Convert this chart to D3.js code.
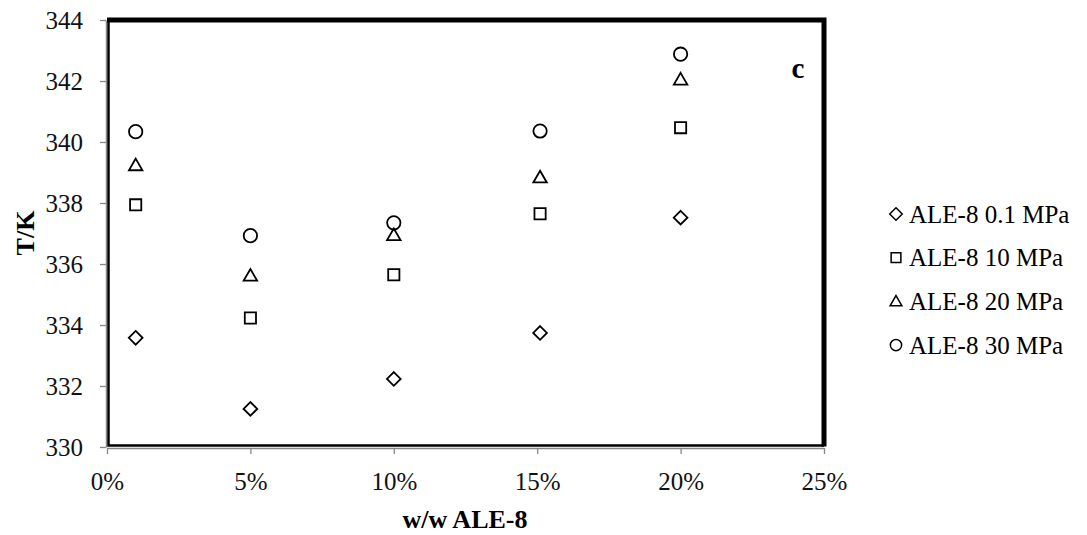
<!DOCTYPE html>
<html>
<head>
<meta charset="utf-8">
<script src="https://cdn.jsdelivr.net/npm/d3@7"></script>
<style>
  body { margin: 0; background: #fff; }
  text { font-family: "Liberation Serif", "Times New Roman", serif; }
</style>
</head>
<body>
<script>
// chart size
var w = 1087;
var h = 535;

// data
var wFrac = [0.01, 0.05, 0.10, 0.151, 0.20];
var t01 = [333.58, 331.25, 332.23, 333.74, 337.52];
var t10 = [337.94, 334.23, 335.65, 337.65, 340.47];
var t20 = [339.25, 335.63, 336.96, 338.85, 342.06];
var t30 = [340.34, 336.93, 337.35, 340.36, 342.88];
var seriesNames = ["ALE-8 0.1 MPa", "ALE-8 10 MPa", "ALE-8 20 MPa", "ALE-8 30 MPa"];
var xTicks = [0, 0.05, 0.10, 0.15, 0.20, 0.25];
var yTicks = [330, 332, 334, 336, 338, 340, 342, 344];

var series = [
  { name: seriesNames[0], vals: t01, sym: d3.symbolDiamond2 },
  { name: seriesNames[1], vals: t10, sym: d3.symbolSquare2 },
  { name: seriesNames[2], vals: t20, sym: d3.symbolTriangle2 },
  { name: seriesNames[3], vals: t30, sym: d3.symbolCircle }
];

var xScale = d3.scaleLinear().domain([0, 0.25]).range([107, 824]);
var yScale = d3.scaleLinear().domain([330, 344]).range([447, 20]);

var svg = d3.select("body").append("svg")
  .attr("width", w)
  .attr("height", h);

// axes (gray)
var xAxis = d3.axisBottom(xScale)
  .tickValues(xTicks)
  .tickFormat(d3.format(".0%"))
  .tickSizeInner(6).tickSizeOuter(0);
var yAxis = d3.axisLeft(yScale)
  .tickValues(yTicks)
  .tickSizeInner(6).tickSizeOuter(0);

var gx = svg.append("g").attr("transform", "translate(0,448)").call(xAxis);
var gy = svg.append("g").attr("transform", "translate(106,0)").call(yAxis);

[gx, gy].forEach(function(g) {
  g.attr("font-size", null).attr("font-family", null);
  g.select(".domain").attr("stroke", "#888").attr("stroke-width", 1.5);
  g.selectAll(".tick line").attr("stroke", "#888").attr("stroke-width", 1.3);
  g.selectAll(".tick text")
    .attr("fill", "#111")
    .style("font-size", "25px");
});
gx.selectAll(".tick text").attr("y", 42).attr("dy", 0);
gy.selectAll(".tick text").attr("x", -23).attr("dy", "0.33em");

// plot area frame: thin left/bottom, thick top/right
var x0 = xScale(0), x1 = xScale(0.25), y0 = yScale(330), y1 = yScale(344);
svg.append("path")
  .attr("d", "M" + (x0 + 1.5) + "," + y1 + "V" + (y0 - 1.5) + "H" + x1)
  .attr("fill", "none").attr("stroke", "#000").attr("stroke-width", 2.5);
svg.append("path")
  .attr("d", "M" + x0 + "," + y1 + "H" + x1 + "V" + (y0 - 0.5))
  .attr("fill", "none").attr("stroke", "#000").attr("stroke-width", 5)
  .attr("stroke-linejoin", "miter");

// markers
var symSize = { "ALE-8 0.1 MPa": 120, "ALE-8 10 MPa": 160, "ALE-8 20 MPa": 130, "ALE-8 30 MPa": 140 };
series.forEach(function(s) {
  var sym = d3.symbol().type(s.sym).size(symSize[s.name]);
  svg.append("g").selectAll("path")
    .data(s.vals)
    .enter().append("path")
    .attr("d", sym)
    .attr("transform", function(d, i) {
      var dy = s.sym === d3.symbolTriangle2 ? 1.5 : 0;
      return "translate(" + xScale(wFrac[i]) + "," + (yScale(d) + dy) + ")";
    })
    .attr("fill", "none")
    .attr("stroke", "#000")
    .attr("stroke-width", 1.8);
});

// panel letter
svg.append("text")
  .attr("x", 798).attr("y", 78)
  .attr("text-anchor", "middle")
  .style("font-size", "29px").style("font-weight", "bold")
  .text("c");

// axis titles
svg.append("text")
  .attr("x", 465).attr("y", 528)
  .attr("text-anchor", "middle")
  .style("font-size", "26px").style("font-weight", "bold")
  .text("w/w ALE-8");
svg.append("text")
  .attr("transform", "translate(34,233) rotate(-90)")
  .attr("text-anchor", "middle")
  .style("font-size", "26px").style("font-weight", "bold")
  .text("T/K");

// legend
var legend = svg.append("g").attr("transform", "translate(896,214)");
var leg = legend.selectAll("g")
  .data(series)
  .enter().append("g")
  .attr("transform", function(d, i) { return "translate(0," + (i * 43.7) + ")"; });
leg.append("path")
  .attr("d", function(d) { return d3.symbol().type(d.sym).size(d.sym === d3.symbolSquare2 ? 120 : 100)(); })
  .attr("transform", function(d) { return d.sym === d3.symbolTriangle2 ? "translate(0,1)" : null; })
  .attr("fill", "none").attr("stroke", "#000").attr("stroke-width", 1.5);
leg.append("text")
  .attr("x", 13).attr("dy", "0.35em")
  .style("font-size", "25px")
  .text(function(d) { return d.name; });
</script>
</body>
</html>
